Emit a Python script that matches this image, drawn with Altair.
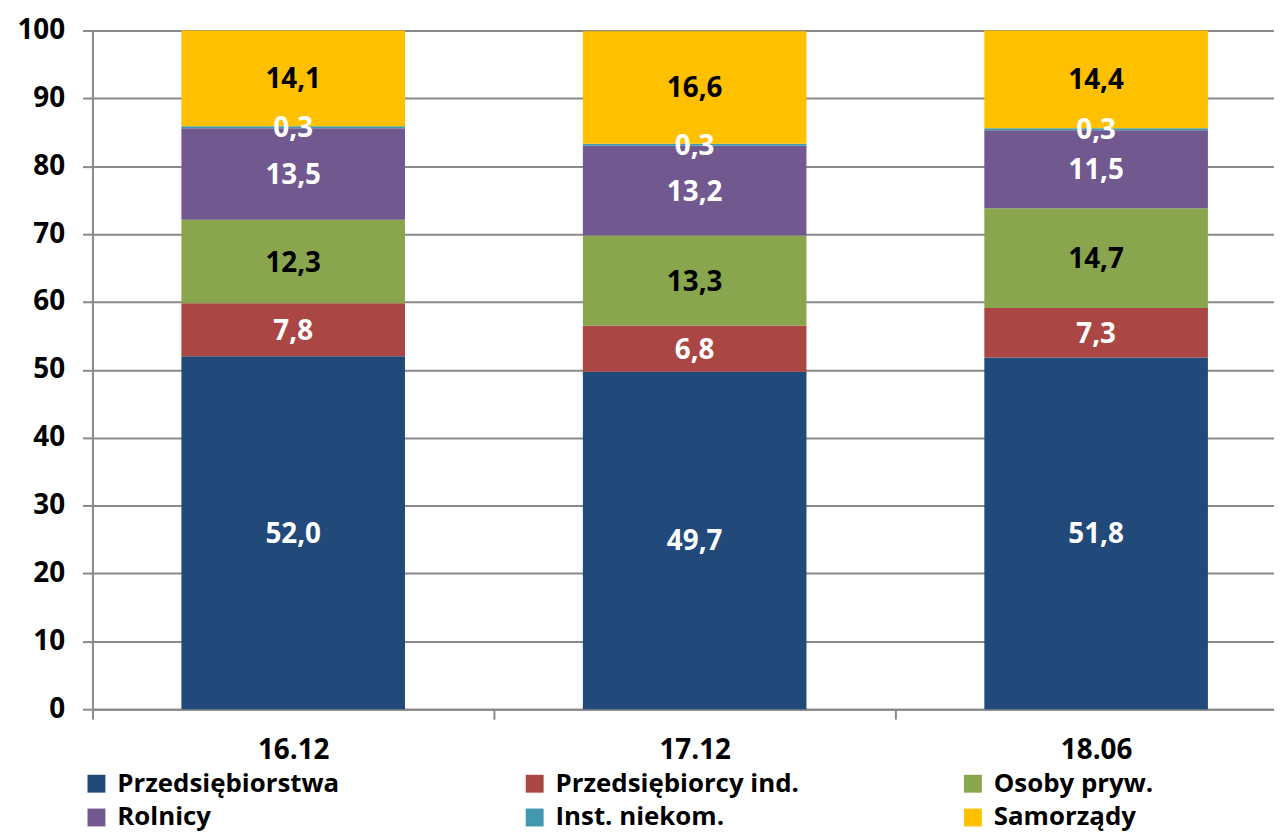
import altair as alt
import pandas as pd

categories = ["16.12", "17.12", "18.06"]
series = ["Przedsiębiorstwa", "Przedsiębiorcy ind.", "Osoby pryw.", "Rolnicy", "Inst. niekom.", "Samorządy"]
colors = ["#214A7B", "#AA4643", "#89A54E", "#71588F", "#4198AF", "#FFC000"]
values = {
    "16.12": [52.0, 7.8, 12.3, 13.5, 0.3, 14.1],
    "17.12": [49.7, 6.8, 13.3, 13.2, 0.3, 16.6],
    "18.06": [51.8, 7.3, 14.7, 11.5, 0.3, 14.4],
}

rows = []
for c in categories:
    for i, s in enumerate(series):
        rows.append({"cat": c, "s": s, "idx": i, "v": values[c][i]})
df = pd.DataFrame(rows)

FONT = "Open Sans"
FS = 28
LFS = 26
GRAY = "#898989"

base = alt.Chart(df).transform_stack(
    stack="v", groupby=["cat"], as_=["y0", "y1"],
    sort=[alt.SortField("idx", order="ascending")]
).transform_calculate(
    mid="(datum.y0 + datum.y1) / 2",
    lab="replace(format(datum.v, '.1f'), '.', ',')",
    tc="(datum.s == 'Osoby pryw.' || datum.s == 'Samorządy') ? 'black' : 'white'",
)

xscale = alt.Scale(paddingInner=0, paddingOuter=0, range=[0, 1212])

xenc = alt.X("cat:N", sort=categories, title=None, scale=xscale,
             axis=alt.Axis(labelAngle=0, tickBand="extent", labelFontSize=FS, labelFont=FONT,
                           labelFontWeight="bold", labelColor="black", tickSize=10,
                           tickColor=GRAY, tickWidth=2, domainColor=GRAY,
                           domainWidth=2, labelPadding=18, grid=False))

bars = base.mark_bar(width=225, stroke=None).encode(
    x=xenc,
    y=alt.Y("y0:Q", title=None, scale=alt.Scale(domain=[0, 100], nice=False),
            axis=alt.Axis(values=list(range(0, 101, 10)), labelFontSize=FS, labelFont=FONT,
                          labelFontWeight="bold", labelColor="black", tickSize=10,
                          tickColor=GRAY, tickWidth=2, domainColor=GRAY,
                          domainWidth=2, gridColor=GRAY, gridWidth=2, labelPadding=18)),
    y2="y1:Q",
    color=alt.Color("s:N", sort=series,
                    scale=alt.Scale(domain=series, range=colors),
                    legend=alt.Legend(title=None, orient="none", legendX=-9, legendY=745,
                                      columns=3, direction="horizontal", symbolType="square",
                                      symbolSize=324, symbolStrokeWidth=0, labelFontSize=LFS,
                                      labelFont=FONT, labelFontWeight="bold", labelColor="black",
                                      labelOffset=8, columnPadding=162, rowPadding=8,
                                      gridAlign="all", labelLimit=600)),
    order=alt.Order("idx:Q"),
)

texts = base.mark_text(fontSize=FS, font=FONT, fontWeight="bold", baseline="middle", dy=2).encode(
    x=alt.X("cat:N", sort=categories, scale=xscale),
    y=alt.Y("mid:Q"),
    text="lab:N",
    color=alt.Color("tc:N", scale=None),
)

chart = alt.layer(bars, texts).properties(
    width=1189, height=683,
    autosize=alt.AutoSizeParams(type="none"),
    padding={"left": 85, "top": 20, "right": 0, "bottom": 125},
).configure_view(stroke=None)

chart.save("out.html", embed_options={"renderer": "svg", "actions": False})
